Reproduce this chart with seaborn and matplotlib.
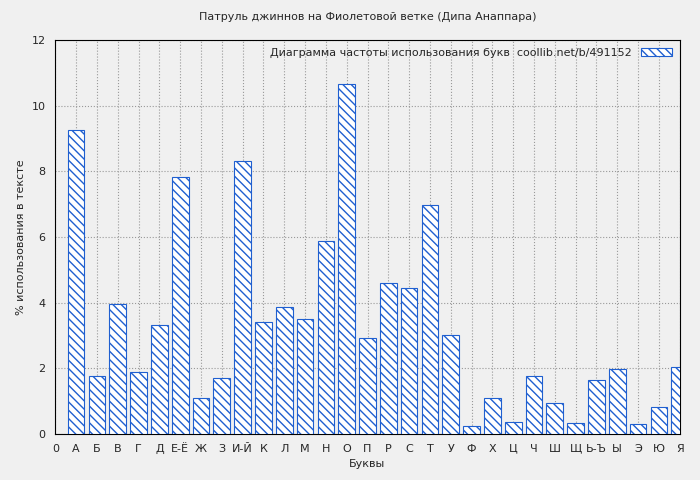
import matplotlib
matplotlib.use("Agg")
import matplotlib.pyplot as plt
import seaborn as sns
import pandas as pd
from matplotlib.patches import Patch

letters = ["А", "Б", "В", "Г", "Д", "Е-Ё", "Ж", "З", "И-Й", "К", "Л", "М", "Н", "О", "П",
           "Р", "С", "Т", "У", "Ф", "Х", "Ц", "Ч", "Ш", "Щ", "Ь-Ъ", "Ы", "Э", "Ю", "Я"]
values = [9.25, 1.75, 3.95, 1.88, 3.33, 7.83, 1.1, 1.7, 8.3, 3.4, 3.85, 3.5, 5.88, 10.67, 2.93,
          4.6, 4.45, 6.98, 3.0, 0.25, 1.1, 0.37, 1.77, 0.93, 0.33, 1.65, 1.97, 0.3, 0.82, 2.03]
positions = list(range(1, len(letters) + 1))

df = pd.DataFrame({"pos": positions, "val": values})

sns.set_style("white")
plt.rcParams["font.family"] = ["DejaVu Sans"]
fig = plt.figure(figsize=(7, 4.8), dpi=100)
fig.patch.set_facecolor("#f0f0f0")
ax = fig.add_axes([0.079, 0.096, 0.892, 0.821])
ax.set_facecolor("#f0f0f0")

blue = "#1f5fd0"
sns.barplot(data=df, x="pos", y="val", native_scale=True, width=0.8,
            color="white", edgecolor=blue, linewidth=0.8, ax=ax, zorder=3)
for p in ax.patches:
    p.set_hatch("\\\\\\\\")
    p.set_facecolor("white")
plt.rcParams["hatch.color"] = blue

ax.set_xlim(0, 30)
ax.set_ylim(0, 12)
ax.set_xticks([0] + positions)
ax.set_xticklabels(["0"] + letters, fontsize=8)
ax.set_yticks(range(0, 13, 2))
ax.tick_params(axis="y", labelsize=8)
ax.grid(True, color="#999999", linestyle=":", linewidth=0.8, zorder=0)
ax.set_axisbelow(True)
for s in ax.spines.values():
    s.set_color("black")
    s.set_linewidth(0.8)

ax.set_xlabel("Буквы", fontsize=8)
ax.set_ylabel("% использования в тексте", fontsize=8)
ax.set_title("Патруль джиннов на Фиолетовой ветке (Дипа Анаппара)", fontsize=8, pad=14)

handle = Patch(facecolor="white", edgecolor=blue, hatch="\\\\\\\\", linewidth=0.8)
ax.legend([handle], ["Диаграмма частоты использования букв  coollib.net/b/491152"],
          loc="upper right", fontsize=8, frameon=False, markerfirst=False,
          handlelength=2.8, borderaxespad=0.3)

fig.savefig("out.png", dpi=100, facecolor=fig.get_facecolor())
